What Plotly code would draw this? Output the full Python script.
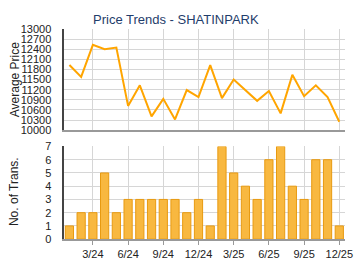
import plotly.graph_objects as go

months = list(range(24))
tick_vals = [2, 5, 8, 11, 14, 17, 20, 23]
tick_text = ["3/24", "6/24", "9/24", "12/24", "3/25", "6/25", "9/25", "12/25"]
avg_price = [11930, 11580, 12530, 12400, 12450, 10720, 11330, 10410, 10930, 10320,
             11190, 10980, 11930, 10950, 11500, 11190, 10870, 11160, 10500, 11640,
             11010, 11330, 10980, 10250]
num_trans = [1, 2, 2, 5, 2, 3, 3, 3, 3, 3, 2, 3, 1, 7, 5, 4, 3, 6, 7, 4, 3, 6, 6, 1]
price_ticks = list(range(10000, 13001, 300))
price_tick_text = [str(v) for v in price_ticks]

W, H = 360, 270
FAM = "Liberation Sans, Arial, sans-serif"
font = dict(family=FAM, size=11, color="#222222")

fig = go.Figure()
fig.add_trace(go.Scatter(x=months, y=avg_price, mode="lines",
                         line=dict(color="#FFA500", width=2), xaxis="x", yaxis="y",
                         hoverinfo="skip"))
fig.add_trace(go.Bar(x=months, y=num_trans, width=0.7,
                     marker=dict(color="#F8B840", line=dict(color="#E89A10", width=1)),
                     xaxis="x2", yaxis="y2", hoverinfo="skip"))

xd = [65 / W, 353 / W]
fig.update_layout(
    width=W, height=H, margin=dict(l=0, r=0, t=0, b=0),
    paper_bgcolor="white", plot_bgcolor="white", showlegend=False, font=font,
    xaxis=dict(domain=xd, range=[-0.5, 23.5], tickvals=tick_vals, showticklabels=False,
               showgrid=True, gridcolor="#d6d6d6", gridwidth=1, zeroline=False,
               showline=True, linecolor="#999999", linewidth=2, ticks="", anchor="y"),
    yaxis=dict(domain=[(H - 130) / H, (H - 24) / H], range=[10000, 13000],
               tickvals=price_ticks, ticktext=price_tick_text, showgrid=True,
               gridcolor="#d6d6d6", zeroline=False,
               showline=True, linecolor="#444444", linewidth=2, ticks="",
               ticklabelstandoff=8, anchor="x"),
    xaxis2=dict(domain=xd, range=[-0.5, 23.5], tickvals=tick_vals, ticktext=tick_text,
                showgrid=True, gridcolor="#d6d6d6", zeroline=False,
                showline=True, linecolor="#999999", linewidth=2, ticks="outside",
                ticklen=4, tickcolor="#999999", ticklabeloverflow="allow",
                anchor="y2"),
    yaxis2=dict(domain=[(H - 244) / H, (H - 147) / H], range=[0, 7], dtick=1,
                showgrid=True, gridcolor="#d6d6d6", zeroline=False,
                showline=True, linecolor="#444444", linewidth=2, ticks="",
                ticklabelstandoff=8, anchor="x2"),
    annotations=[
        dict(text="Price Trends - SHATINPARK", x=180 / W, y=1 - 14 / H, xref="paper",
             yref="paper", showarrow=False, xanchor="center", yanchor="middle",
             font=dict(size=13, color="#1f3d6b", family=FAM)),
        dict(text="Average Price", x=15 / W, y=1 - 77 / H, xref="paper", yref="paper",
             textangle=-90, showarrow=False, xanchor="center", yanchor="middle",
             font=dict(size=12, color="#222222")),
        dict(text="No. of Trans.", x=15 / W, y=1 - 194 / H, xref="paper", yref="paper",
             textangle=-90, showarrow=False, xanchor="center", yanchor="middle",
             font=dict(size=12, color="#222222")),
    ],
)
fig.write_html("out.html")
